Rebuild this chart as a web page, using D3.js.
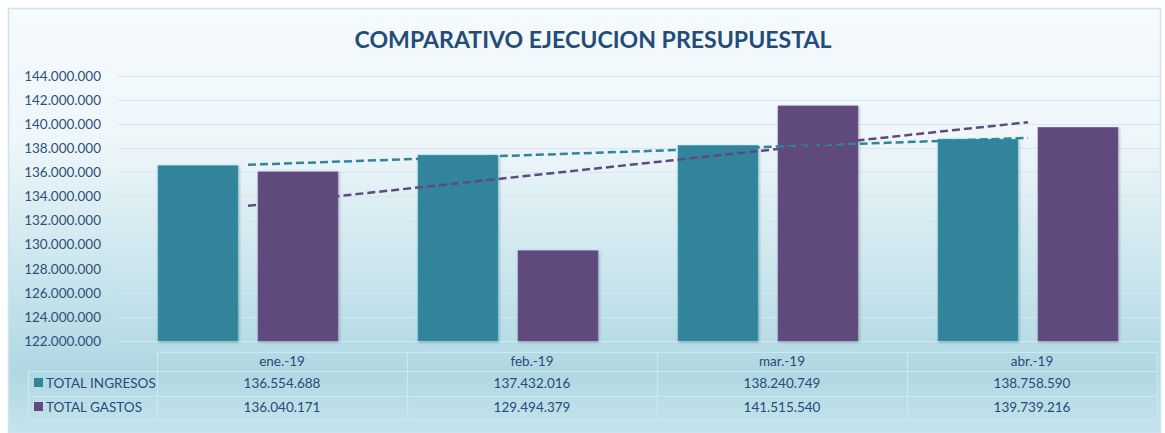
<!DOCTYPE html>
<html><head><meta charset="utf-8">
<script src="https://cdn.jsdelivr.net/npm/d3@7"></script>
<style>body{margin:0;background:#fff;}svg{display:block;font-family:Lato,"Open Sans",sans-serif;}</style>
</head><body>
<svg id="c" width="1165" height="433"></svg>
<script>
const categories = ["ene.-19","feb.-19","mar.-19","abr.-19"];
const seriesNames = ["TOTAL INGRESOS","TOTAL GASTOS"];
const ingresos = [136554688,137432016,138240749,138758590];
const gastos = [136040171,129494379,141515540,139739216];
const yTicks = [122000000,124000000,126000000,128000000,130000000,132000000,134000000,136000000,138000000,140000000,142000000,144000000];
const colors = ["#31849b","#604a7b"];
const title = "COMPARATIVO EJECUCION PRESUPUESTAL";

const loc = d3.formatLocale({decimal:",",thousands:".",grouping:[3],currency:["",""]});
const fmt = loc.format(",d");
const svg = d3.select("#c");
const defs = svg.append("defs");
const g = defs.append("linearGradient").attr("id","bg").attr("x1",0).attr("y1",0).attr("x2",0).attr("y2",1);
g.append("stop").attr("offset","0").attr("stop-color","#f5fafc");
g.append("stop").attr("offset","0.3").attr("stop-color","#eff7fa");
g.append("stop").attr("offset","0.86").attr("stop-color","#afd8e3");
g.append("stop").attr("offset","1").attr("stop-color","#c6e4ec");
const f = defs.append("filter").attr("id","sh").attr("x","-10%").attr("y","-10%").attr("width","130%").attr("height","130%");
f.append("feDropShadow").attr("dx",1).attr("dy",1).attr("stdDeviation",1.5).attr("flood-color","#000").attr("flood-opacity",0.25);

svg.append("rect").attr("x",8.5).attr("y",8.5).attr("width",1152).attr("height",424).attr("fill","url(#bg)").attr("stroke","#cfe2f0").attr("stroke-width",1.5);

svg.append("text").attr("x",593).attr("y",48).attr("text-anchor","middle")
  .attr("font-size",23).attr("font-weight","bold").attr("fill","#234d78")
  .attr("textLength",477).attr("lengthAdjust","spacingAndGlyphs").text(title);

const y = d3.scaleLinear().domain([122000000,144000000]).range([341,76]);
const x = d3.scaleBand().domain(categories).range([118,1158]);
const xs = d3.scaleBand().domain(seriesNames).range([x.bandwidth()/2-90, x.bandwidth()/2+90]).paddingInner(0.2);

// gridlines
svg.append("g").selectAll("line").data(yTicks).join("line")
  .attr("x1",118).attr("x2",1160).attr("y1",d=>Math.round(y(d))+0.5).attr("y2",d=>Math.round(y(d))+0.5)
  .attr("stroke","#d6e6f3").attr("stroke-width",1);

// y axis labels
const yAxis = d3.axisLeft(y).tickValues(yTicks).tickFormat(fmt).tickSize(0).tickPadding(0);
const ya = svg.append("g").attr("transform","translate(101,0)").call(yAxis);
ya.select(".domain").remove();
ya.selectAll("text").attr("font-size",13.5).attr("fill","#2f4f7a").attr("font-family","Lato,'Open Sans',sans-serif");

// bars
const data = [ingresos,gastos];
seriesNames.forEach((s,i)=>{
  svg.append("g").selectAll("rect").data(categories).join("rect")
    .attr("x",c=>x(c)+xs(s)).attr("width",xs.bandwidth())
    .attr("y",(c,j)=>y(data[i][j])).attr("height",(c,j)=>y(122000000)-y(data[i][j]))
    .attr("fill",colors[i]).attr("stroke",d3.color(colors[i]).brighter(0.6)).attr("stroke-width",0.6)
    .attr("filter","url(#sh)");
});

// linear trend lines
function trend(vals){
  const n=vals.length, xm=(n-1)/2, ym=d3.mean(vals);
  let num=0,den=0; vals.forEach((v,k)=>{num+=(k-xm)*(v-ym);den+=(k-xm)*(k-xm);});
  const b=num/den, a=ym-b*xm;
  return [a, a+b*(n-1)];
}
data.forEach((vals,i)=>{
  const t=trend(vals);
  const cx0=x(categories[0])+x.bandwidth()/2, cx1=x(categories[categories.length-1])+x.bandwidth()/2;
  svg.append("line").attr("x1",cx0).attr("x2",cx1).attr("y1",y(t[0])).attr("y2",y(t[1]))
    .attr("stroke",colors[i]).attr("stroke-width",2.5).attr("stroke-dasharray","8,4");
});

// data table
const tx0=157, tw=250, rows=[352,371,396,419], lx=28;
const tg=svg.append("g");
const lc="#cfe7ef";
tg.append("line").attr("x1",tx0).attr("x2",tx0+tw*4).attr("y1",rows[0]+0.5).attr("y2",rows[0]+0.5).attr("stroke",lc).attr("stroke-width",1.2);
[1,2,3].forEach(r=>tg.append("line").attr("x1",lx).attr("x2",tx0+tw*4).attr("y1",rows[r]+0.5).attr("y2",rows[r]+0.5).attr("stroke",lc).attr("stroke-width",1.2));
tg.append("line").attr("x1",lx+0.5).attr("x2",lx+0.5).attr("y1",rows[1]).attr("y2",rows[3]).attr("stroke",lc).attr("stroke-width",1.2);
d3.range(5).forEach(k=>tg.append("line").attr("x1",tx0+k*tw+0.5).attr("x2",tx0+k*tw+0.5).attr("y1",rows[0]).attr("y2",rows[3]).attr("stroke",lc).attr("stroke-width",1.2));
const tcol="#2a4a78";
categories.forEach((c,k)=>{
  tg.append("text").attr("x",tx0+k*tw+tw/2).attr("y",366).attr("text-anchor","middle").attr("font-size",13.5).attr("fill",tcol).text(c);
  data.forEach((vals,i)=>{
    tg.append("text").attr("x",tx0+k*tw+tw/2).attr("y",i?412:388).attr("text-anchor","middle").attr("font-size",13.5).attr("fill",tcol).text(fmt(vals[k]));
  });
});
seriesNames.forEach((s,i)=>{
  const yy=i?412:388;
  tg.append("rect").attr("x",34).attr("y",yy-10).attr("width",9).attr("height",9).attr("fill",colors[i]);
  tg.append("text").attr("x",46).attr("y",yy).attr("font-size",13.5).attr("fill",tcol).text(s);
});
</script>
</body></html>
